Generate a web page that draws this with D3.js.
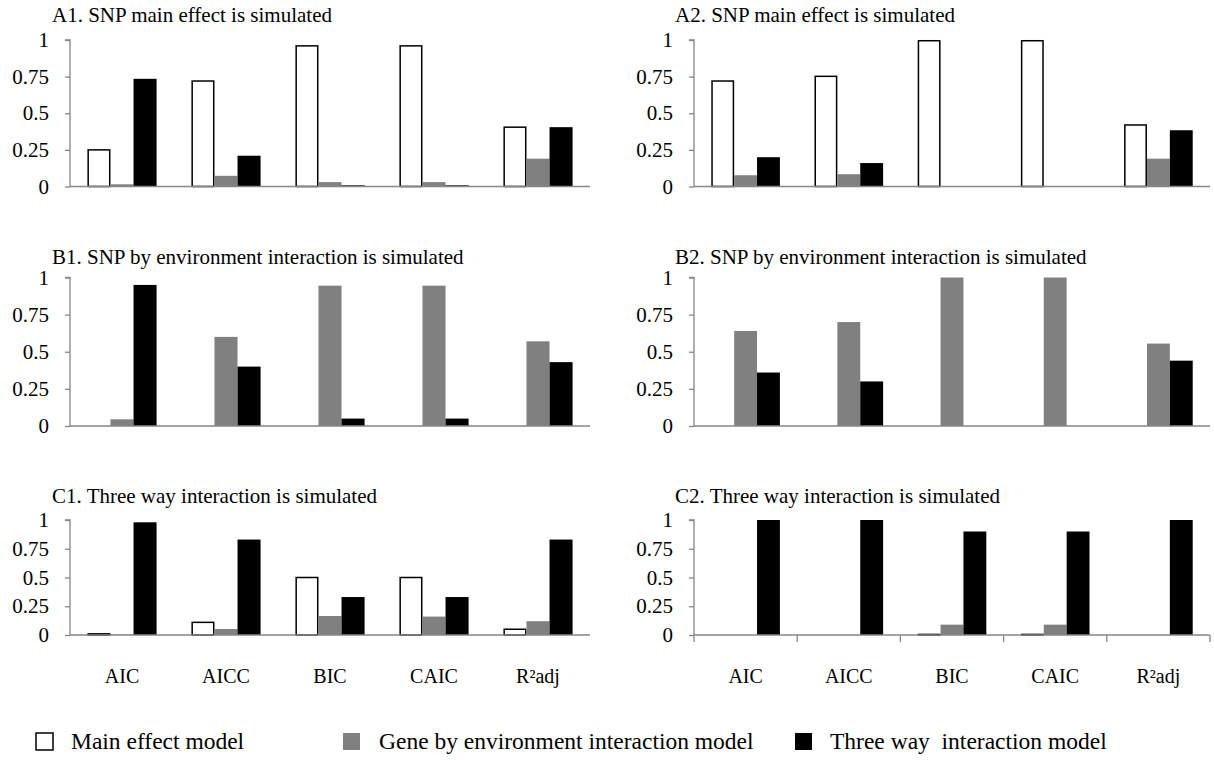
<!DOCTYPE html>
<html>
<head>
<meta charset="utf-8">
<script src="https://cdn.jsdelivr.net/npm/d3@7/dist/d3.min.js"></script>
<style>
  html, body { margin: 0; padding: 0; background: #fff; }
  svg { display: block; }
  svg text { font-family: "Liberation Serif", Tinos, "Times New Roman", Times, "DejaVu Serif", "Noto Serif", serif !important; fill: #000; }
</style>
</head>
<body>
<svg id="chart" width="1214" height="760"></svg>
<script>
// ---- data ----
const categories = ["AIC", "AICC", "BIC", "CAIC", "R\u00B2adj"];
const seriesNames = ["Main effect model", "Gene by environment interaction model", "Three way  interaction model"];
const yTickValues = [0, 0.25, 0.5, 0.75, 1];
const yTickLabels = ["0", "0.25", "0.5", "0.75", "1"];
const panelTitles = [
  "A1. SNP main effect is simulated",
  "A2. SNP main effect is simulated",
  "B1. SNP by environment interaction is simulated",
  "B2. SNP by environment interaction is simulated",
  "C1. Three way interaction is simulated",
  "C2. Three way interaction is simulated"
];

const a1Main  = [0.25, 0.72, 0.96, 0.96, 0.405];
const a1GxE   = [0.015, 0.073, 0.03, 0.03, 0.19];
const a1Three = [0.735, 0.21, 0.008, 0.008, 0.405];

const a2Main  = [0.72, 0.752, 0.995, 0.995, 0.42];
const a2GxE   = [0.077, 0.084, 0.002, 0.002, 0.19];
const a2Three = [0.20, 0.16, 0.002, 0.002, 0.384];

const b1Main  = [0, 0, 0, 0, 0];
const b1GxE   = [0.045, 0.60, 0.945, 0.945, 0.57];
const b1Three = [0.95, 0.40, 0.05, 0.05, 0.43];

const b2Main  = [0, 0, 0, 0, 0];
const b2GxE   = [0.64, 0.70, 1.0, 1.0, 0.555];
const b2Three = [0.36, 0.30, 0, 0, 0.44];

const c1Main  = [0.01, 0.11, 0.5, 0.5, 0.05];
const c1GxE   = [0.004, 0.052, 0.165, 0.16, 0.12];
const c1Three = [0.98, 0.83, 0.33, 0.33, 0.83];

const c2Main  = [0, 0, 0.005, 0.005, 0];
const c2GxE   = [0, 0, 0.09, 0.09, 0];
const c2Three = [1.0, 1.0, 0.90, 0.90, 1.0];

const panelData = [
  [a1Main, a1GxE, a1Three],
  [a2Main, a2GxE, a2Three],
  [b1Main, b1GxE, b1Three],
  [b2Main, b2GxE, b2Three],
  [c1Main, c1GxE, c1Three],
  [c2Main, c2GxE, c2Three]
];

// ---- layout ----
const layout = [
  { x0: 70,  x1: 590,  yTop: 40,    yZero: 186.5, titleX: 52,  titleY: 22,  xTicks: false, xLabels: false },
  { x0: 694, x1: 1210, yTop: 40,    yZero: 186.5, titleX: 675, titleY: 22,  xTicks: false, xLabels: false },
  { x0: 70,  x1: 590,  yTop: 277.5, yZero: 426,   titleX: 52,  titleY: 264, xTicks: false, xLabels: false },
  { x0: 694, x1: 1210, yTop: 277.5, yZero: 426,   titleX: 675, titleY: 264, xTicks: false, xLabels: false },
  { x0: 70,  x1: 590,  yTop: 520,   yZero: 635,   titleX: 52,  titleY: 503, xTicks: false, xLabels: true },
  { x0: 694, x1: 1210, yTop: 520,   yZero: 635,   titleX: 675, titleY: 503, xTicks: true,  xLabels: true }
];

const FONT = '"Liberation Serif", Tinos, "Times New Roman", Times, "DejaVu Serif", "Noto Serif", serif';
const fills   = ["#ffffff", "#808080", "#000000"];
const strokes = ["#000000", "none", "none"];
const axisColor = "#868686";

const svg = d3.select("#chart");

layout.forEach((L, pi) => {
  const g = svg.append("g");
  const x = d3.scaleBand().domain(categories).range([L.x0, L.x1]).padding(0);
  const step = x.bandwidth();
  const groupW = step * 0.665;
  const xs = d3.scaleBand().domain(d3.range(seriesNames.length)).range([0, groupW]).padding(0);
  const y = d3.scaleLinear().domain([0, 1]).range([L.yZero, L.yTop]);

  // title
  g.append("text")
    .attr("x", L.titleX).attr("y", L.titleY)
    .attr("font-family", FONT)
    .style("font-size", "21px")
    .text(panelTitles[pi]);

  // bars
  panelData[pi].forEach((vals, si) => {
    g.selectAll(null).data(vals).enter().append("rect")
      .attr("x", (d, i) => x(categories[i]) + (step - groupW) / 2 + xs(si) + (si === 0 ? 0.75 : 0))
      .attr("width", xs.bandwidth() - (si === 0 ? 1.5 : 0))
      .attr("y", d => y(d))
      .attr("height", d => Math.max(0, y(0) - y(d)))
      .attr("fill", fills[si])
      .attr("stroke", strokes[si])
      .attr("stroke-width", si === 0 ? 1.5 : 0);
  });

  // y axis
  const yAxis = d3.axisLeft(y).tickValues(yTickValues)
    .tickFormat((d, i) => yTickLabels[i]).tickSize(5).tickPadding(16);
  const ya = g.append("g").attr("transform", `translate(${L.x0},0)`).call(yAxis)
    .attr("font-family", FONT);
  ya.select(".domain").attr("stroke", axisColor).attr("stroke-width", 1.3)
    .attr("d", `M-5,${L.yTop}H0V${L.yZero}`);
  ya.selectAll(".tick line").attr("stroke", axisColor).attr("stroke-width", 1.3);
  ya.selectAll(".tick text").style("font-size", "21px").attr("fill", "#000");

  // x axis
  const xAxis = d3.axisBottom(x).tickSize(0).tickPadding(34);
  const xa = g.append("g").attr("transform", `translate(0,${L.yZero})`).call(xAxis)
    .attr("font-family", FONT);
  xa.select(".domain").attr("stroke", axisColor).attr("stroke-width", 1.6)
    .attr("d", `M${L.x0},0H${L.x1}`);
  xa.selectAll(".tick line").remove();
  if (L.xLabels) {
    xa.selectAll(".tick text").style("font-size", "20px").attr("fill", "#000");
  } else {
    xa.selectAll(".tick text").remove();
  }
  if (L.xTicks) {
    const bounds = categories.map(c => x(c)).concat([L.x1]);
    xa.selectAll(".bound").data(bounds).enter().append("line")
      .attr("x1", d => d).attr("x2", d => d).attr("y1", 0).attr("y2", 7)
      .attr("stroke", axisColor).attr("stroke-width", 1.3);
  }
});

// ---- legend ----
const legendPos = [
  { box: 36,  text: 71 },
  { box: 343, text: 379 },
  { box: 795, text: 830 }
];
const leg = svg.append("g").attr("font-family", FONT);
seriesNames.forEach((name, i) => {
  leg.append("rect")
    .attr("x", legendPos[i].box).attr("y", 733)
    .attr("width", 17).attr("height", 17)
    .attr("fill", fills[i])
    .attr("stroke", i === 0 ? "#000" : "none")
    .attr("stroke-width", i === 0 ? 1.5 : 0);
  leg.append("text")
    .attr("x", legendPos[i].text).attr("y", 749)
    .style("font-size", "23.5px")
    .style("white-space", "pre")
    .attr("xml:space", "preserve")
    .text(name);
});
</script>
</body>
</html>
